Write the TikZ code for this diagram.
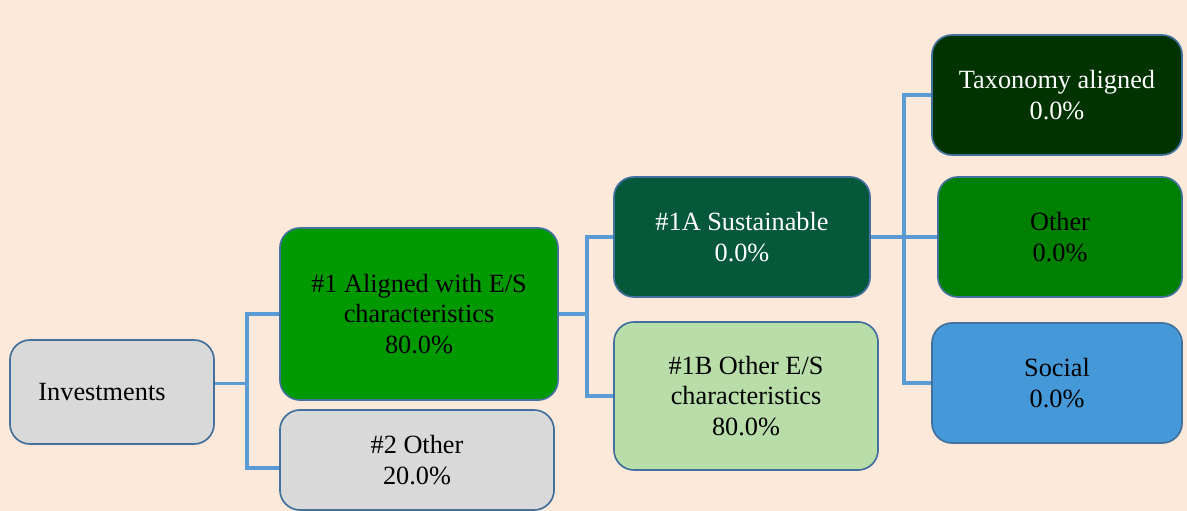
\documentclass[tikz,border=0pt]{standalone}
\usepackage{fontspec}
\setmainfont{Liberation Serif}
\usetikzlibrary{positioning}

\definecolor{peach}{HTML}{FDE9D9}
\definecolor{edge}{HTML}{41719C}
\definecolor{wire}{HTML}{5B9BD5}
\definecolor{greyfill}{HTML}{D9D9D9}
\definecolor{alignfill}{HTML}{009900}
\definecolor{sustfill}{HTML}{05583A}
\definecolor{esfill}{HTML}{B9DDA9}
\definecolor{taxfill}{HTML}{003300}
\definecolor{othfill}{HTML}{008000}
\definecolor{socfill}{HTML}{4599D9}

\begin{document}
\begin{tikzpicture}[x=0.025cm, y=-0.025cm,
	box/.style={draw=edge, line width=1.2pt, rounded corners=0.5cm, align=center,
		font=\fontsize{18.7}{22}\selectfont, inner sep=2pt},
	link/.style={draw=wire, line width=2.4pt}]
	\useasboundingbox[fill=peach] (0,0) rectangle (1187,511);% canvas

	\node[box, fill=greyfill, minimum width=5.1cm, minimum height=2.6cm] (inv) at (112,392) {Investments\hspace*{0.5cm}};
	\node[box, fill=alignfill, minimum width=6.95cm, minimum height=4.3cm] (alg) at (419,314) {\#1 Aligned with E/S\\characteristics\\80.0\%};
	\node[box, fill=greyfill, minimum width=6.85cm, minimum height=2.5cm] (oth) at (417,460) {\#2 Other\\20.0\%};
	\node[box, fill=sustfill, text=white, minimum width=6.4cm, minimum height=3cm] (sust) at (742,237) {\#1A Sustainable\\0.0\%};
	\node[box, fill=esfill, minimum width=6.6cm, minimum height=3.7cm] (es) at (746,396) {\#1B Other E/S\\characteristics\\80.0\%};
	\node[box, fill=taxfill, text=white, minimum width=6.25cm, minimum height=3cm] (tax) at (1057,95) {Taxonomy aligned\\0.0\%};
	\node[box, fill=othfill, minimum width=6.1cm, minimum height=3cm] (envo) at (1060,237) {Other\\0.0\%};
	\node[box, fill=socfill, minimum width=6.25cm, minimum height=3cm] (soc) at (1057,383) {Social\\0.0\%};

	\draw[link] ([yshift=0.22cm]inv.east) -- ++(32,0) |- (alg.west);
	\draw[link] ([yshift=0.22cm]inv.east) -- ++(32,0) |- ([yshift=-0.2cm]oth.west);
	\draw[link] (alg.east) -- ++(28,0) |- (sust.west);
	\draw[link] (alg.east) -- ++(28,0) |- (es.west);
	\draw[link] (sust.east) -- ++(33,0) |- (tax.west);
	\draw[link] (sust.east) -- (envo.west);
	\draw[link] (sust.east) -- ++(33,0) |- (soc.west);
\end{tikzpicture}
\end{document}
